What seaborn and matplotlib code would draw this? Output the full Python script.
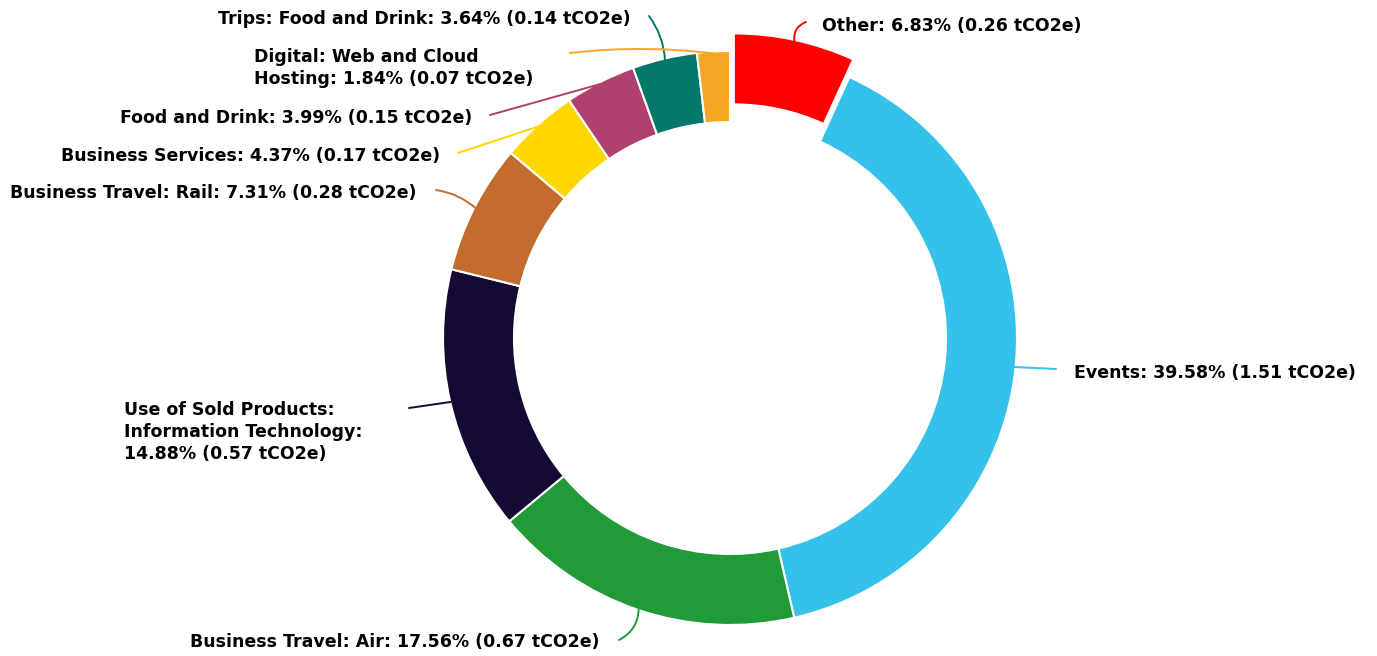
import numpy as np
import matplotlib
matplotlib.use("Agg")
import matplotlib.pyplot as plt
import seaborn as sns

# =========================
# DATA
# =========================

categories = [
    "Other",
    "Events",
    "Business Travel: Air",
    "Use of Sold Products:\nInformation Technology",
    "Business Travel: Rail",
    "Business Services",
    "Food and Drink",
    "Trips: Food and Drink",
    "Digital: Web and Cloud\nHosting",
]
shares = [6.83, 39.58, 17.56, 14.88, 7.31, 4.37, 3.99, 3.64, 1.84]
tco2e = [0.26, 1.51, 0.67, 0.57, 0.28, 0.17, 0.15, 0.14, 0.07]
colors = ["#FF0000", "#35C2EA", "#219B37", "#140A33", "#C36C2D",
          "#FFD700", "#B0406E", "#03786B", "#F5A623"]

# =========================
# LAYOUT (pixel coords of the 1377x656 image)
# =========================

W, H = 1377, 656
cx, cy = 730, 338
radius = 287
ring = 71
explode_px = [18, 0, 0, 0, 0, 0, 0, 0, 0]

# where each connector ends, and how the text is placed
line_end = [(806, 22), (1056, 369), (619, 640), (409, 408), (436, 190),
            (458, 153), (490, 115), (649, 16), (570, 53)]
text_pos = [(822, 26, "left"), (1074, 373, "left"), (600, 642, "right"),
            (124, 432, "left"), (417, 193, "right"), (440, 156, "right"),
            (472, 118, "right"), (631, 19, "right"), (254, 68, "left")]
line_rad = [0.4, 0.0, 0.3, 0.0, -0.15, 0.0, 0.0, -0.15, -0.06]


def to_data(x, y):
    return x, H - y


sns.set_theme(style="white")
plt.rcParams["font.family"] = ["DejaVu Sans"]

fig = plt.figure(figsize=(W / 100, H / 100), dpi=100)
ax = fig.add_axes([0, 0, 1, 1])

palette = sns.color_palette(colors)
wedges, _ = ax.pie(
    shares,
    colors=palette,
    startangle=90,
    counterclock=False,
    radius=radius,
    center=to_data(cx, cy),
    explode=explode_px,
    wedgeprops=dict(width=ring, edgecolor="white", linewidth=1.5),
    frame=True,
)
ax.set_xlim(0, W)
ax.set_ylim(0, H)
ax.set_aspect("equal")
ax.axis("off")

# =========================
# LABELS + CONNECTORS
# =========================

for i, w in enumerate(wedges):
    mid = np.deg2rad((w.theta1 + w.theta2) / 2)
    wx, wy = w.center
    anchor = (wx + (radius - 2) * np.cos(mid), wy + (radius - 2) * np.sin(mid))
    ex, ey = to_data(*line_end[i])
    ax.annotate(
        "", xy=anchor, xytext=(ex, ey),
        arrowprops=dict(arrowstyle="-", color=colors[i], lw=1.4,
                        shrinkA=0, shrinkB=0,
                        connectionstyle=f"arc3,rad={line_rad[i]}"),
    )
    tx, ty, ha = text_pos[i]
    label = f"{categories[i]}: {shares[i]:.2f}% ({tco2e[i]:.2f} tCO2e)"
    if i == 3:
        label = f"{categories[i]}:\n{shares[i]:.2f}% ({tco2e[i]:.2f} tCO2e)"
    ax.text(*to_data(tx, ty), label, ha=ha, va="center", fontsize=12.5,
            fontweight="bold", color="black", linespacing=1.3,
            multialignment="left")

fig.savefig("out.png", dpi=100)
